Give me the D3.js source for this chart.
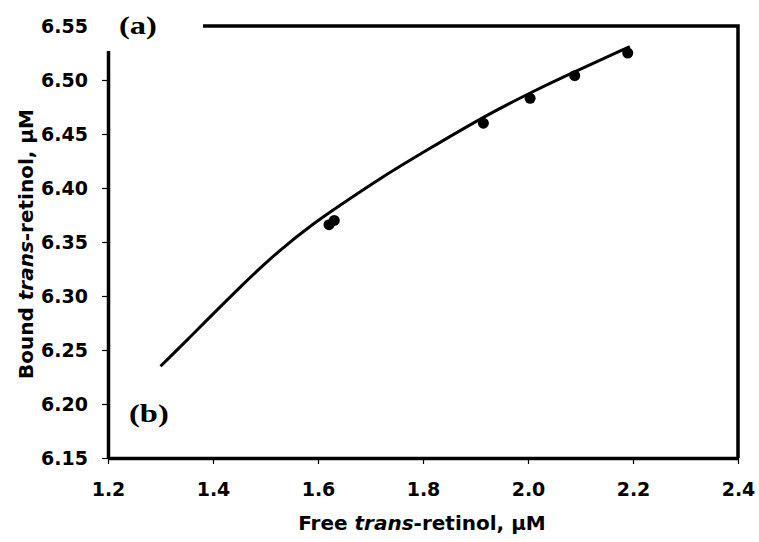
<!DOCTYPE html>
<html>
<head>
<meta charset="utf-8">
<script src="https://cdn.jsdelivr.net/npm/d3@7"></script>
<style>
  body { margin: 0; background: #fff; }
  text { font-family: "DejaVu Sans", sans-serif; font-weight: bold; fill: #000; }
  .tick text { font-size: 19px; }
  .axis-label { font-size: 20px; }
  .panel { font-family: "Liberation Serif", "Times New Roman", serif; font-size: 25px; }
</style>
</head>
<body>
<svg width="759" height="542"></svg>
<script>
// measured points
const freeRetinol = [1.621, 1.631, 1.915, 2.004, 2.089, 2.190];
const boundRetinol = [6.366, 6.370, 6.460, 6.483, 6.504, 6.525];

// fitted curve
const fitFree = [1.300, 1.338, 1.465, 1.528, 1.591, 1.636, 1.718, 1.807, 1.915, 2.004, 2.054, 2.194];
const fitBound = [6.235, 6.253, 6.315, 6.343, 6.367, 6.382, 6.409, 6.435, 6.466, 6.488, 6.500, 6.531];

const xTicks = [1.2, 1.4, 1.6, 1.8, 2.0, 2.2, 2.4];
const yTicks = [6.15, 6.20, 6.25, 6.30, 6.35, 6.40, 6.45, 6.50, 6.55];

const svg = d3.select('svg');
const width = +svg.attr('width');
const height = +svg.attr('height');

const margin = { top: 26, right: 21, bottom: 84, left: 108 };
const innerWidth = width - margin.left - margin.right;
const innerHeight = height - margin.top - margin.bottom;

const xScale = d3.scaleLinear().domain([1.2, 2.4]).range([0, innerWidth]);
const yScale = d3.scaleLinear().domain([6.15, 6.55]).range([innerHeight, 0]);

const g = svg.append('g')
    .attr('transform', `translate(${margin.left},${margin.top})`);

// top and right frame
g.append('path')
    .attr('d', `M0,0H${innerWidth}V${innerHeight}`)
    .attr('fill', 'none')
    .attr('stroke', '#000')
    .attr('stroke-width', 3.5);

const yAxis = d3.axisLeft(yScale)
    .tickValues(yTicks)
    .tickFormat(d3.format('.2f'))
    .tickSizeInner(6)
    .tickSizeOuter(0)
    .tickPadding(14);

const xAxis = d3.axisBottom(xScale)
    .tickValues(xTicks)
    .tickFormat(d3.format('.1f'))
    .tickSizeInner(6)
    .tickSizeOuter(0)
    .tickPadding(19);

const yAxisG = g.append('g').call(yAxis);
yAxisG.select('.domain').attr('stroke-width', 3.5);
yAxisG.selectAll('.tick line').attr('stroke-width', 1.2);

const xAxisG = g.append('g').call(xAxis)
    .attr('transform', `translate(0,${innerHeight})`);
xAxisG.select('.domain').attr('stroke-width', 3.5);
xAxisG.selectAll('.tick line').attr('stroke-width', 1.2);

// fitted line
const fitData = fitFree.map((x, i) => ({ x, y: fitBound[i] }));
const lineGenerator = d3.line()
    .x(d => xScale(d.x))
    .y(d => yScale(d.y))
    .curve(d3.curveBasis);

g.append('path')
    .attr('d', lineGenerator(fitData))
    .attr('fill', 'none')
    .attr('stroke', '#000')
    .attr('stroke-width', 3);

// points
g.selectAll('circle')
    .data(freeRetinol.map((x, i) => ({ x, y: boundRetinol[i] })))
    .enter().append('circle')
    .attr('cx', d => xScale(d.x))
    .attr('cy', d => yScale(d.y))
    .attr('r', 5.5)
    .attr('fill', '#000');

// white patch behind the (a) label
svg.append('rect')
    .attr('x', 98).attr('y', 0)
    .attr('width', 105).attr('height', 51)
    .attr('fill', '#fff');

svg.append('text')
    .attr('class', 'panel')
    .attr('transform', 'translate(119,34) scale(1.3,1)')
    .text('(a)');

svg.append('text')
    .attr('class', 'panel')
    .attr('transform', 'translate(129,422) scale(1.3,1)')
    .text('(b)');

// axis labels
const xLabel = svg.append('text')
    .attr('class', 'axis-label')
    .attr('x', 422)
    .attr('y', 530)
    .attr('text-anchor', 'middle');
xLabel.append('tspan').text('Free ');
xLabel.append('tspan').attr('font-style', 'italic').text('trans');
xLabel.append('tspan').text('-retinol, µM');

const yLabel = svg.append('text')
    .attr('class', 'axis-label')
    .attr('transform', 'translate(33,244) rotate(-90)')
    .attr('text-anchor', 'middle');
yLabel.append('tspan').text('Bound ');
yLabel.append('tspan').attr('font-style', 'italic').text('trans');
yLabel.append('tspan').text('-retinol, µM');
</script>
</body>
</html>
